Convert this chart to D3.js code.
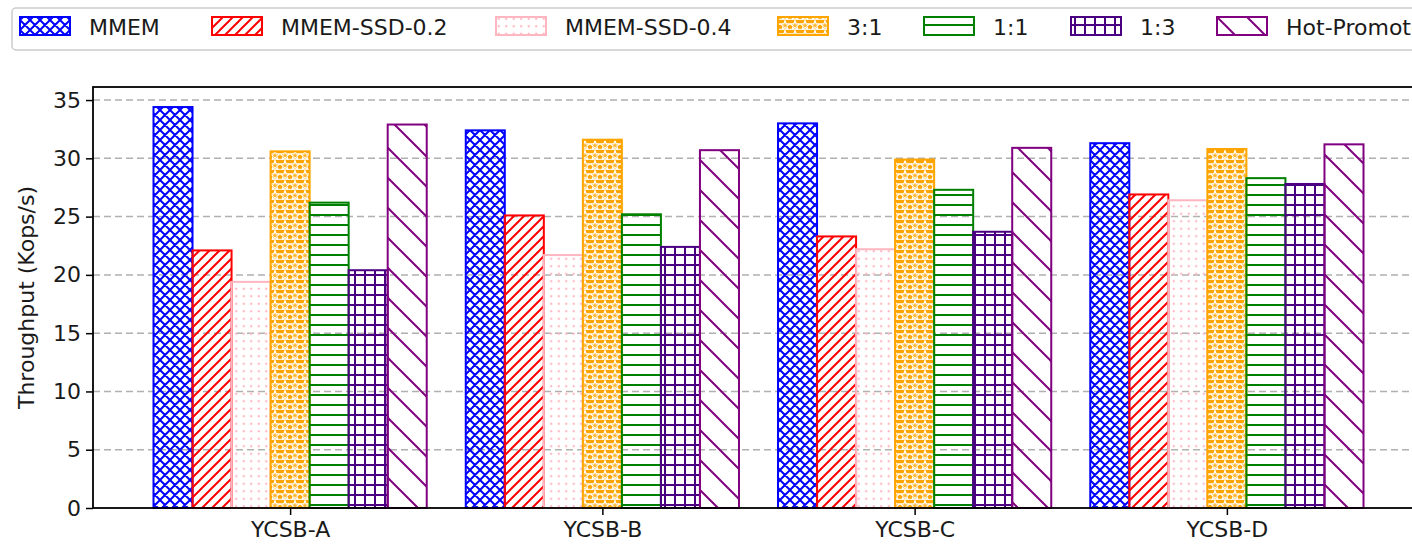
<!DOCTYPE html>
<html>
<head>
<meta charset="utf-8">
<script src="https://cdn.jsdelivr.net/npm/d3@7"></script>
<style>
  html, body { margin: 0; padding: 0; background: #ffffff; overflow: hidden; }
  svg { display: block; font-family: "DejaVu Sans", sans-serif; }
</style>
</head>
<body>
<svg id="chart" width="1412" height="549"></svg>
<script>
// Workloads on the x axis
const categories = ["YCSB-A", "YCSB-B", "YCSB-C", "YCSB-D"];

// Throughput (Kops/s) per configuration, one value per workload
const mmem        = [34.4, 32.4, 33.0, 31.3];
const mmemSsd02   = [22.1, 25.1, 23.3, 26.9];
const mmemSsd04   = [19.4, 21.7, 22.2, 26.4];
const ratio31     = [30.6, 31.6, 29.9, 30.8];
const ratio11     = [26.2, 25.2, 27.3, 28.3];
const ratio13     = [20.4, 22.4, 23.7, 27.8];
const hotPromoted = [32.9, 30.7, 30.9, 31.2];

const seriesNames = ["MMEM", "MMEM-SSD-0.2", "MMEM-SSD-0.4", "3:1", "1:1", "1:3", "Hot-Promoted"];
const seriesValues = [mmem, mmemSsd02, mmemSsd04, ratio31, ratio11, ratio13, hotPromoted];

const yTicks = [0, 5, 10, 15, 20, 25, 30, 35];
const yLabel = "Throughput (Kops/s)";

// Styling for each series: edge / hatch colour and hatch kind
const seriesStyle = [
  { color: "#0000ff", hatch: "cross" },
  { color: "#ff0000", hatch: "slash" },
  { color: "#ffb6c1", hatch: "dots" },
  { color: "#ffa500", hatch: "stars" },
  { color: "#008000", hatch: "hline" },
  { color: "#4b0082", hatch: "plus" },
  { color: "#800080", hatch: "backslash" }
];

// Left edge of each legend entry (single-row legend)
const legendSlots = [20, 212, 496, 778, 924, 1071, 1217];

const svg = d3.select("#chart");
const plot = { left: 93, right: 1424, top: 87, bottom: 508 };

const barWidth = 0.125;
const nSeries = seriesNames.length;
const xPad = (nSeries * barWidth / 2) + 0.05 * (categories.length - 1 + nSeries * barWidth);

const x = d3.scaleLinear()
  .domain([-xPad, categories.length - 1 + xPad])
  .range([plot.left, plot.right]);

const yMax = d3.max(seriesValues.flat()) * 1.05;
const y = d3.scaleLinear()
  .domain([0, yMax])
  .range([plot.bottom, plot.top]);

// ---------- hatch patterns ----------
const defs = svg.append("defs");

function makePattern(id, style) {
  const c = style.color;
  const sw = 2;
  let s;
  const p = defs.append("pattern")
    .attr("id", id)
    .attr("patternUnits", "userSpaceOnUse");
  switch (style.hatch) {
    case "cross": {
      s = 10;
      p.attr("width", s).attr("height", s);
      p.append("path")
        .attr("d", `M0,0L${s},${s}M${s},0L0,${s}M${-s/4},${s/4}L${s/4},${-s/4}M${3*s/4},${5*s/4}L${5*s/4},${3*s/4}M${-s/4},${3*s/4}L${s/4},${5*s/4}M${3*s/4},${-s/4}L${5*s/4},${s/4}`)
        .attr("stroke", c).attr("stroke-width", sw).attr("fill", "none");
      break;
    }
    case "slash": {
      s = 10;
      p.attr("width", s).attr("height", s);
      p.append("path")
        .attr("d", `M0,${s}L${s},0M${-s/4},${s/4}L${s/4},${-s/4}M${3*s/4},${5*s/4}L${5*s/4},${3*s/4}`)
        .attr("stroke", c).attr("stroke-width", sw).attr("fill", "none");
      break;
    }
    case "backslash": {
      s = 30;
      p.attr("width", s).attr("height", s);
      p.append("path")
        .attr("d", `M0,0L${s},${s}M${-s/4},${3*s/4}L${s/4},${5*s/4}M${3*s/4},${-s/4}L${5*s/4},${s/4}`)
        .attr("stroke", c).attr("stroke-width", sw).attr("fill", "none");
      break;
    }
    case "hline": {
      s = 10;
      p.attr("width", s).attr("height", s);
      p.append("path")
        .attr("d", `M0,${s/2}L${s},${s/2}`)
        .attr("stroke", c).attr("stroke-width", sw).attr("fill", "none");
      break;
    }
    case "plus": {
      s = 10;
      p.attr("width", s).attr("height", s);
      p.append("path")
        .attr("d", `M0,${s/2}L${s},${s/2}M${s/2},0L${s/2},${s}`)
        .attr("stroke", c).attr("stroke-width", sw).attr("fill", "none");
      break;
    }
    case "dots": {
      s = 7.5;
      p.attr("width", s).attr("height", s);
      p.append("circle")
        .attr("cx", s/2).attr("cy", s/2).attr("r", 1.2)
        .attr("fill", c);
      break;
    }
    case "stars": {
      s = 10;
      p.attr("width", s).attr("height", s);
      p.append("rect").attr("width", s).attr("height", s).attr("fill", c);
      const star = d3.symbol().type(d3.symbolStar).size(30);
      p.append("path")
        .attr("d", star())
        .attr("transform", `translate(${s/2},${s/2 + 0.5})`)
        .attr("fill", "#ffb733").attr("stroke", "#ffffff").attr("stroke-width", 1.1);
      p.append("path")
        .attr("d", `M0,${s - 0.7}L${s},${s - 0.7}`)
        .attr("stroke", "#ffffff").attr("stroke-width", 1).attr("fill", "none");
      break;
    }
  }
}
seriesStyle.forEach((st, i) => makePattern("hatch" + i, st));

// ---------- grid ----------
svg.append("g")
  .selectAll("line")
  .data(yTicks.filter(t => t > 0))
  .join("line")
  .attr("x1", plot.left).attr("x2", plot.right)
  .attr("y1", d => y(d)).attr("y2", d => y(d))
  .attr("stroke", "#b0b0b0")
  .attr("stroke-width", 1.5)
  .attr("stroke-dasharray", "7,4");

// ---------- bars ----------
const barsG = svg.append("g");
seriesValues.forEach((vals, j) => {
  const st = seriesStyle[j];
  const offset = (j - (nSeries - 1) / 2) * barWidth;
  const g = barsG.append("g");
  g.selectAll("rect.hatch")
    .data(vals)
    .join("rect")
    .attr("x", (d, i) => x(i + offset - barWidth / 2))
    .attr("width", x(barWidth) - x(0))
    .attr("y", d => y(d))
    .attr("height", d => y(0) - y(d))
    .attr("fill", `url(#hatch${j})`);
  g.selectAll("rect.edge")
    .data(vals)
    .join("rect")
    .attr("x", (d, i) => x(i + offset - barWidth / 2))
    .attr("width", x(barWidth) - x(0))
    .attr("y", d => y(d))
    .attr("height", d => y(0) - y(d))
    .attr("fill", "none")
    .attr("stroke", st.color)
    .attr("stroke-width", 2);
});

// ---------- axes ----------
const yAxis = d3.axisLeft(y).tickValues(yTicks).tickSize(7).tickPadding(5).tickFormat(d3.format("d"));
const yG = svg.append("g")
  .attr("transform", `translate(${plot.left},0)`)
  .call(yAxis);
yG.select(".domain").remove();
yG.selectAll(".tick line").attr("stroke", "#000").attr("stroke-width", 1.5);
yG.selectAll(".tick text").attr("font-size", 22).attr("fill", "#1a1a1a").attr("font-family", "DejaVu Sans");

const xAxis = d3.axisBottom(x).tickValues(d3.range(categories.length)).tickFormat(i => categories[i]).tickSize(7).tickPadding(6);
const xG = svg.append("g")
  .attr("transform", `translate(0,${plot.bottom})`)
  .call(xAxis);
xG.select(".domain").remove();
xG.selectAll(".tick line").attr("stroke", "#000").attr("stroke-width", 1.5);
xG.selectAll(".tick text").attr("font-size", 22).attr("fill", "#1a1a1a").attr("font-family", "DejaVu Sans");

// spines
svg.append("rect")
  .attr("x", plot.left).attr("y", plot.top)
  .attr("width", plot.right - plot.left).attr("height", plot.bottom - plot.top)
  .attr("fill", "none").attr("stroke", "#000").attr("stroke-width", 1.8);

// y label
svg.append("text")
  .attr("transform", `translate(26,${(plot.top + plot.bottom) / 2}) rotate(-90)`)
  .attr("text-anchor", "middle")
  .attr("dominant-baseline", "central")
  .attr("font-size", 22)
  .attr("fill", "#1a1a1a")
  .text(yLabel);

// ---------- legend ----------
const legend = svg.append("g");
legend.append("rect")
  .attr("x", 12).attr("y", 8)
  .attr("width", 1430).attr("height", 42)
  .attr("rx", 4)
  .attr("fill", "#ffffff")
  .attr("stroke", "#cccccc")
  .attr("stroke-width", 1.5);

seriesNames.forEach((name, j) => {
  const st = seriesStyle[j];
  const lx = legendSlots[j];
  const item = legend.append("g");
  item.append("rect")
    .attr("x", lx).attr("y", 17).attr("width", 50).attr("height", 18)
    .attr("fill", `url(#hatch${j})`);
  item.append("rect")
    .attr("x", lx).attr("y", 17).attr("width", 50).attr("height", 18)
    .attr("fill", "none").attr("stroke", st.color).attr("stroke-width", 2);
  item.append("text")
    .attr("x", lx + 69).attr("y", 27)
    .attr("dominant-baseline", "central")
    .attr("font-size", 22)
    .attr("fill", "#1a1a1a")
    .text(name);
});
</script>
</body>
</html>
